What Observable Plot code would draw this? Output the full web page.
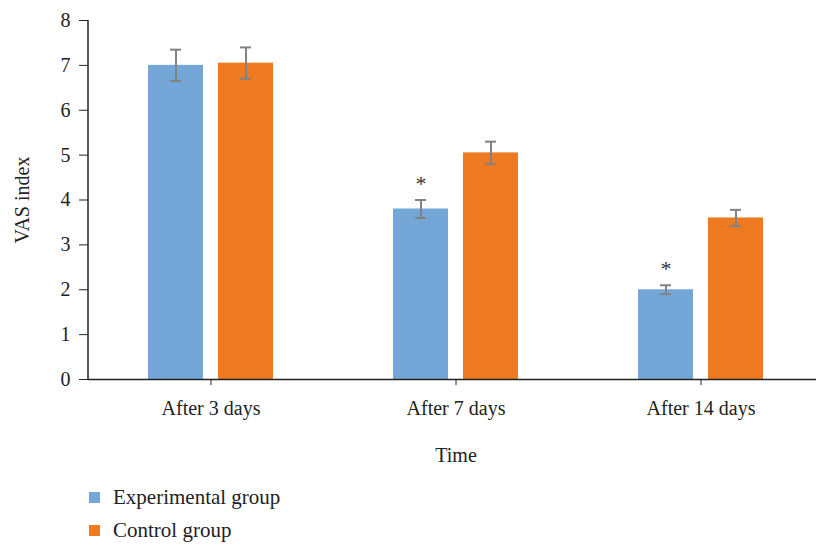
<!DOCTYPE html>
<html><head><meta charset="utf-8">
<script src="https://cdn.jsdelivr.net/npm/d3@7"></script>
<script src="https://cdn.jsdelivr.net/npm/@observablehq/plot@0.6"></script>
<style>
html,body{margin:0;padding:0;background:#fff;overflow:hidden;width:816px;height:546px}
#chart{width:816px;overflow:hidden}
#chart svg{display:block;max-width:none !important;width:823px;height:470px}
#legend{font-family:"Liberation Serif",serif;font-size:21px;color:#222;margin-left:88px;margin-top:11px}
#legend .row{height:33px;display:flex;align-items:center}
#legend .sw{width:11px;height:11px;margin-right:13px;margin-left:1px}
</style></head><body><div id="chart"></div><div id="legend"></div>
<script>
const times = ["After 3 days", "After 7 days", "After 14 days"];
const groups = ["Experimental group", "Control group"];
const experimental = [7.0, 3.8, 2.0];
const control = [7.05, 5.05, 3.6];
const experimentalErr = [0.35, 0.2, 0.1];
const controlErr = [0.35, 0.25, 0.18];
const significant = [false, true, true];
const colors = ["#74a7d8", "#ee7b22"];
const yTicks = [0, 1, 2, 3, 4, 5, 6, 7, 8];

const data = [];
times.forEach((t, i) => {
  data.push({time: t, group: groups[0], value: experimental[i], err: experimentalErr[i], sig: significant[i]});
  data.push({time: t, group: groups[1], value: control[i], err: controlErr[i], sig: false});
});

const chart = Plot.plot({
  width: 823, height: 470,
  marginLeft: 88, marginRight: 0, marginTop: 20, marginBottom: 91,
  style: {fontFamily: "Liberation Serif, serif", fontSize: "20px", color: "#222", background: "#fff"},
  fx: {domain: times, padding: 0, round: false, label: "Time", labelAnchor: "center", labelOffset: 82, axis: "bottom", tickSize: 6, tickPadding: 15},
  x: {domain: groups, paddingInner: 0.214, paddingOuter: 0.857, round: false, axis: null},
  y: {domain: [0, 8], ticks: yTicks, tickSize: 9, tickPadding: 9, tickFormat: d3.format("d"), label: "VAS index", labelArrow: false, labelAnchor: "center", labelOffset: 74},
  color: {domain: groups, range: colors},
  marks: [
    Plot.barY(data, {fx: "time", x: "group", y: "value", fill: "group"}),
    Plot.ruleX(data, {fx: "time", x: "group", y1: d => d.value - d.err, y2: d => d.value + d.err, stroke: "#828282", strokeWidth: 2}),
    Plot.tickY(data, {fx: "time", x: "group", y: d => d.value - d.err, stroke: "#828282", strokeWidth: 2, insetLeft: 22, insetRight: 22}),
    Plot.tickY(data, {fx: "time", x: "group", y: d => d.value + d.err, stroke: "#828282", strokeWidth: 2, insetLeft: 22, insetRight: 22}),
    Plot.text(data.filter(d => d.sig), {fx: "time", x: "group", y: d => d.value + d.err, text: () => "*", dy: -16, fontSize: 22, fill: "#333"}),
    Plot.ruleY([0], {stroke: "#222", strokeWidth: 1.5})
  ]
});

// strip any arrow the axis label may carry
d3.select(chart).selectAll("text").each(function() {
  const t = d3.select(this);
  if (/VAS index/.test(t.text())) {
    const ts = t.selectAll("tspan");
    if (ts.size()) ts.each(function() { const s = d3.select(this); s.text(s.text().replace(/\s*[↑→←↓]\s*/g, "")); });
    else t.text(t.text().replace(/\s*[↑→←↓]\s*/g, ""));
  }
});

// y-axis line drawn from the library's scales
const ys = chart.scale("y"), fxs = chart.scale("fx");
d3.select(chart).append("line")
  .attr("x1", fxs.range[0]).attr("x2", fxs.range[0])
  .attr("y1", ys.apply(8)).attr("y2", ys.apply(0))
  .attr("stroke", "#222").attr("stroke-width", 1.5);

document.getElementById("chart").appendChild(chart);

const legend = d3.select("#legend");
groups.forEach((g, i) => {
  const row = legend.append("div").attr("class", "row");
  row.append("div").attr("class", "sw").style("background", colors[i]);
  row.append("span").text(g);
});
</script>
</body></html>
